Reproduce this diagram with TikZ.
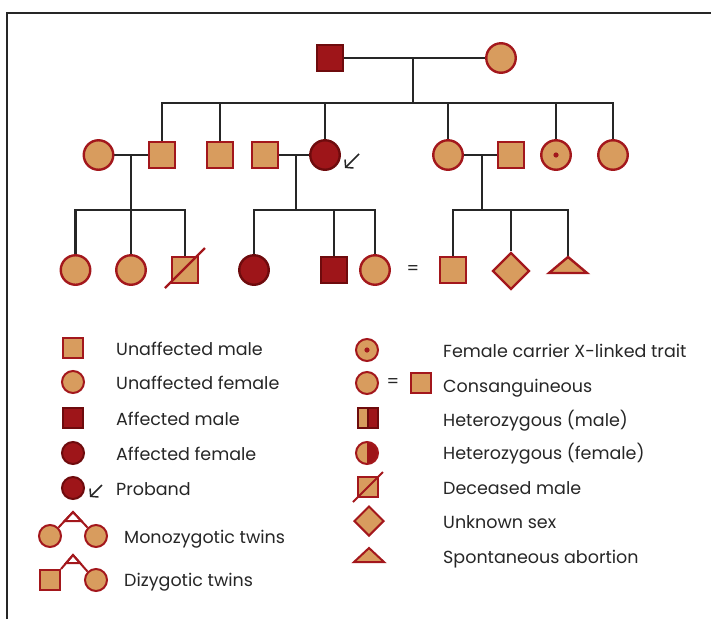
\documentclass[tikz,border=0pt]{standalone}
\usepackage{fontspec}
\setmainfont{Poppins}
\usetikzlibrary{shapes.geometric,arrows.meta,backgrounds}
\definecolor{pedtan}{HTML}{D89C5E}
\definecolor{pedred}{HTML}{A3171C}
\definecolor{affred}{HTML}{9E1519}
\definecolor{affline}{HTML}{6E0B0D}
\definecolor{ink}{HTML}{262626}
\tikzset{
  male/.style = {draw=pedred, fill=pedtan, line width=2.4pt, minimum size=26.5pt, inner sep=0pt},
  female/.style = {circle, draw=pedred, fill=pedtan, line width=2.4pt, minimum size=29.5pt, inner sep=0pt},
  affected/.style = {draw=affline, fill=affred},
  unknown/.style = {diamond, draw=pedred, fill=pedtan, line width=2.4pt, minimum size=37pt, inner sep=0pt},
  abortion/.style = {draw=pedred, fill=pedtan, line width=2.4pt, line join=miter},
  carrier/.style = {path picture={\fill[pedred] (path picture bounding box.center) circle (2.6pt);}},
  hetmale/.style = {draw=affline, path picture={
      \fill[affred] (path picture bounding box.north) rectangle (path picture bounding box.south east);
      \draw[affline, line width=1.6pt] (path picture bounding box.north) -- (path picture bounding box.south);}},
  hetfemale/.style = {path picture={
      \fill[affred] (path picture bounding box.north) rectangle (path picture bounding box.south east);}},
  legsym/.style = {minimum size=20pt, line width=2pt},
  legcirc/.style = {minimum size=22pt, line width=2pt},
  kin/.style = {draw=ink, line width=2.8pt},
  twin/.style = {draw=pedred, line width=2pt, line join=miter},
  slash/.style = {draw=pedred, line width=2.4pt},
  proband/.style = {draw=ink, line width=1.5pt, -{Straight Barb[length=5pt,width=12pt]}},
  legtext/.style = {anchor=base west, text=ink, font=\fontsize{17.5}{20}\selectfont, inner sep=0pt},
  frame/.style = {draw=ink, line width=1.6pt}
}

\begin{document}
\begin{tikzpicture}[x=1pt,y=-1pt]
  \useasboundingbox (0,0) rectangle (711,619);
  % generation I
  \node[male,affected] (I1) at (330,58) {};
  \node[female] (I2) at (501,58) {};
  % generation II
  \node[female] (II1) at (98.5,155) {};
  \node[male] (II2) at (162,155) {};
  \node[male] (II3) at (220,155) {};
  \node[male] (II4) at (265,155) {};
  \node[female,affected] (II5) at (325,155) {};
  \node[female] (II6) at (448,155) {};
  \node[male] (II7) at (511,155) {};
  \node[female,carrier] (II8) at (556,155) {};
  \node[female] (II9) at (613,155) {};
  % generation III
  \node[female] (III1) at (75.5,270) {};
  \node[female] (III2) at (131,270) {};
  \node[male] (III3) at (185,270) {};
  \node[female,affected] (III4) at (254,270) {};
  \node[male,affected] (III5) at (334,270) {};
  \node[female] (III6) at (375,270) {};
  \node[legtext,anchor=center] (eq1) at (413,270) {=};
  \node[male] (III7) at (453,270) {};
  \node[unknown] (III8) at (511,271) {};
  \coordinate (III9) at (568,257);
  \draw[abortion] (III9) -- ++(-19,16) -- ++(38,0) -- cycle;
  % deceased
  \draw[slash] (III3) +(-20,18) -- +(20,-22);
  % proband arrow
  \coordinate (pa1) at (359,154);
  \coordinate (pa2) at (345,168);
  \draw[proband] (pa1) -- (pa2);

  % lines of descent
  \coordinate (m1) at (413,58);
  \coordinate (s1) at (413,103);
  \coordinate (m2) at (131,155);
  \coordinate (s2) at (131,210);
  \coordinate (m3) at (296,155);
  \coordinate (s3) at (296,210);
  \coordinate (m4) at (482,155);
  \coordinate (s4) at (482,210);
  \begin{scope}[on background layer]
    \draw[frame] (7,619) -- (7,13) -- (711,13);
    \draw[kin] (I1) -- (I2);
    \draw[kin] (m1) -- (s1);
    \draw[kin] (II2.north) |- (s1) -| (II9.north);
    \foreach \c in {II3,II5,II6,II8}
      \draw[kin] (\c.north) -- (\c.north |- s1);
    \draw[kin] (II1) -- (II2);
    \draw[kin] (m2) -- (s2);
    \draw[kin] (III1.north) |- (s2) -| (III3.north);
    \draw[kin] (III2.north) -- (s2);
    \draw[kin] (II4) -- (II5);
    \draw[kin] (m3) -- (s3);
    \draw[kin] (III4.north) |- (s3) -| (III6.north);
    \draw[kin] (III5.north) -- (III5.north |- s3);
    \draw[kin] (II6) -- (II7);
    \draw[kin] (m4) -- (s4);
    \draw[kin] (III7.north) |- (s4) -| (III9);
    \draw[kin] (III8.north) -- (III8.north |- s4);
  \end{scope}

  % key, left column
  \node[male,legsym] (lm) at (73,348) {};
  \node[legtext] (tm) at (116,355) {Unaffected male};
  \node[female,legcirc] (lf) at (73,382) {};
  \node[legtext] (tf) at (116,389) {Unaffected female};
  \node[male,affected,legsym] (lam) at (73,418) {};
  \node[legtext] (tam) at (116,425) {Affected male};
  \node[female,affected,legcirc] (laf) at (73,453) {};
  \node[legtext] (taf) at (116,460) {Affected female};
  \node[female,affected,legcirc] (lpb) at (73,488) {};
  \coordinate (lpa1) at (102,485);
  \coordinate (lpa2) at (90,497);
  \draw[proband] (lpa1) -- (lpa2);
  \node[legtext] (tpb) at (116,495) {Proband};
  % twins
  \node[female,legcirc] (mz1) at (50,536) {};
  \node[female,legcirc] (mz2) at (96,536) {};
  \coordinate (mzt) at (73,512);
  \draw[twin] (mz1.45) -- (mzt) -- (mz2.135);
  \draw[twin] (mzt) -- ++(-8.4,9) -- ++(16.8,0) -- cycle;
  \node[legtext] (tmz) at (124,543) {Monozygotic twins};
  \node[male,legsym] (dz1) at (50,580) {};
  \node[female,legcirc] (dz2) at (96,580) {};
  \coordinate (dzt) at (73,555);
  \draw[twin] (dz1.north east) -- (dzt) -- (dz2.135);
  \draw[twin] (dzt) -- ++(-6.9,8) -- ++(14,0) -- cycle;
  \node[legtext] (tdz) at (124,586) {Dizygotic twins};

  % key, right column
  \node[female,carrier,legcirc] (lc) at (367,350) {};
  \node[legtext] (tc) at (443,357) {Female carrier X-linked trait};
  \node[female,legcirc] (lcf) at (367,383) {};
  \node[legtext,anchor=center] (eq2) at (393,383) {=};
  \node[male,legsym] (lcm) at (421,383) {};
  \node[legtext] (tcs) at (443,392) {Consanguineous};
  \node[male,hetmale,legsym] (lhm) at (368,418) {};
  \node[legtext] (thm) at (443,426) {Heterozygous (male)};
  \node[female,hetfemale,legcirc] (lhf) at (367,453) {};
  \node[legtext] (thf) at (443,459) {Heterozygous (female)};
  \node[male,legsym] (ldm) at (368,487) {};
  \draw[slash,line width=2pt] (ldm) +(-15,15) -- +(15,-15);
  \node[legtext] (tdm) at (443,494) {Deceased male};
  \node[unknown,minimum size=30pt,line width=2pt] (lu) at (369,521) {};
  \node[legtext] (tu) at (443,528) {Unknown sex};
  \coordinate (la) at (369,548);
  \draw[abortion,line width=2pt] (la) -- ++(-15,14) -- ++(30,0) -- cycle;
  \node[legtext] (ta) at (443,563) {Spontaneous abortion};
\end{tikzpicture}
\end{document}
